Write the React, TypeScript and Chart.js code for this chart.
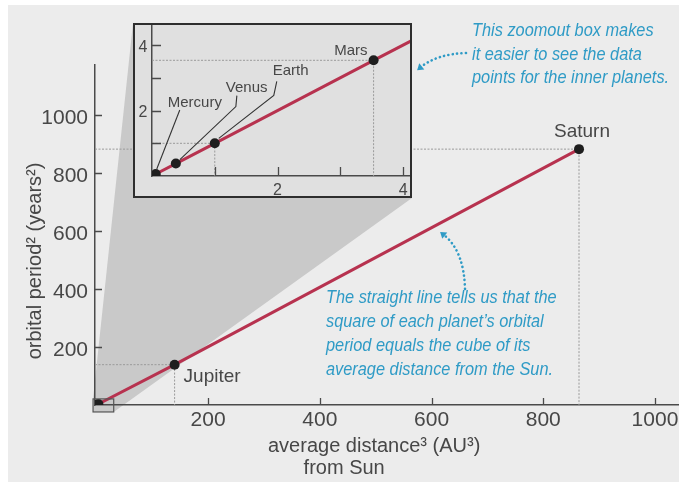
import React, { useEffect, useRef } from "react";
import { Chart, registerables } from "chart.js";

Chart.register(...registerables);

// Kepler's third law: period squared vs. distance cubed
const PLANETS = ["Mercury", "Venus", "Earth", "Mars", "Jupiter", "Saturn"];
const DIST_CUBED = [0.06, 0.38, 1, 3.53, 140, 864]; // AU^3
const PERIOD_SQUARED = [0.06, 0.38, 1, 3.54, 139, 882]; // years^2

const MAIN_X_TICKS = [200, 400, 600, 800, 1000];
const MAIN_Y_TICKS = [200, 400, 600, 800, 1000];
const INSET_TICKS = [1, 2, 3, 4];
const INSET_LABELED_TICKS = [2, 4];

const MAIN_GUIDES = ["Jupiter", "Saturn"];
const INSET_GUIDES = ["Earth", "Mars"];

const X_TITLE = "average distance\u00B3 (AU\u00B3)";
const X_TITLE_2 = "from Sun";
const Y_TITLE = "orbital period\u00B2 (years\u00B2)";

const NOTE_ZOOM = [
  "This zoomout box makes",
  "it easier to see the data",
  "points for the inner planets.",
];
const NOTE_LINE = [
  "The straight line tells us that the",
  "square of each planet\u2019s orbital",
  "period equals the cube of its",
  "average distance from the Sun.",
];

// ---- styling / layout ----
const FONT = "'Liberation Sans', Arial, Helvetica, sans-serif";
const TEXT = "#474747";
const AXIS = "#4a4a4a";
const RED = "#b7324f";
const DOT = "#1e1e1e";
const GUIDE = "#9a9a9a";
const TEAL = "#2f9bc6";
const CONE = "#c9c9c9";
const PAGE = "#ececec";
const INSET_BG = "#e0e0e0";
const NOTE_SQUEEZE = 0.86; // condensed italic look for the callouts

const W = 679;
const H = 483;
const INSET_BOX = { left: 133, top: 23, width: 279, height: 175, border: 2 };
// small magnifier box around the origin, in main-chart data units
const ZOOM_BOX = { xMin: -6, xMax: 31, yMin: -24, yMax: 21 };

const MAIN_LABELS = [
  { name: "Saturn", dx: 3, dy: -12, align: "center" as CanvasTextAlign },
  { name: "Jupiter", dx: 9, dy: 17, align: "left" as CanvasTextAlign },
];

const INSET_LABELS = [
  { name: "Mercury", dx: 12, dy: -67, align: "left" as CanvasTextAlign, leader: [[1, -5], [24, -64]] },
  { name: "Venus", dx: 50, dy: -72, align: "left" as CanvasTextAlign, leader: [[4, -4], [60, -57], [61, -68]] },
  { name: "Earth", dx: 58, dy: -68, align: "left" as CanvasTextAlign, leader: [[4, -5], [59, -48], [62, -62]] },
  { name: "Mars", dx: -6, dy: -5, align: "right" as CanvasTextAlign, leader: [] as number[][] },
];

const points = PLANETS.map((_, i) => ({ x: DIST_CUBED[i], y: PERIOD_SQUARED[i] }));

function planetPx(chart: any, name: string): [number, number] {
  const i = PLANETS.indexOf(name);
  return [
    chart.scales.x.getPixelForValue(DIST_CUBED[i]),
    chart.scales.y.getPixelForValue(PERIOD_SQUARED[i]),
  ];
}

function guidesPlugin(names: string[]) {
  return {
    id: "guides",
    beforeDatasetsDraw(chart: any) {
      const { ctx, chartArea: a } = chart;
      ctx.save();
      ctx.strokeStyle = GUIDE;
      ctx.lineWidth = 1;
      ctx.setLineDash([2, 1.5]);
      for (const n of names) {
        const [px, py] = planetPx(chart, n);
        ctx.beginPath();
        ctx.moveTo(a.left, py);
        ctx.lineTo(px, py);
        ctx.lineTo(px, a.bottom);
        ctx.stroke();
      }
      ctx.restore();
    },
  };
}

// tick marks pointing into the plot area, plus their numeric labels
function ticksPlugin(o: {
  xs: number[];
  ys: number[];
  labeled: (v: number) => boolean;
  len: number;
  size: number;
  xBase: number;
  yGap: number;
  yBase: number;
}) {
  return {
    id: "ticksInward",
    beforeDatasetsDraw(chart: any) {
      const { ctx, chartArea: a, scales } = chart;
      ctx.save();
      ctx.strokeStyle = AXIS;
      ctx.lineWidth = 1.3;
      ctx.beginPath();
      for (const v of o.xs) {
        const px = Math.round(scales.x.getPixelForValue(v)) + 0.5;
        ctx.moveTo(px, a.bottom);
        ctx.lineTo(px, a.bottom - o.len);
      }
      for (const v of o.ys) {
        const py = Math.round(scales.y.getPixelForValue(v)) + 0.5;
        ctx.moveTo(a.left, py);
        ctx.lineTo(a.left + o.len, py);
      }
      ctx.stroke();
      ctx.fillStyle = TEXT;
      ctx.font = `${o.size}px ${FONT}`;
      ctx.textBaseline = "alphabetic";
      ctx.textAlign = "center";
      for (const v of o.xs) {
        if (!o.labeled(v)) continue;
        ctx.fillText(String(v), scales.x.getPixelForValue(v), a.bottom + o.xBase);
      }
      ctx.textAlign = "right";
      for (const v of o.ys) {
        if (!o.labeled(v)) continue;
        ctx.fillText(String(v), a.left - o.yGap, scales.y.getPixelForValue(v) + o.yBase);
      }
      ctx.restore();
    },
  };
}

function dottedArrow(
  ctx: CanvasRenderingContext2D,
  s: [number, number],
  c: [number, number],
  e: [number, number]
) {
  ctx.save();
  ctx.strokeStyle = TEAL;
  ctx.fillStyle = TEAL;
  ctx.lineWidth = 2.6;
  ctx.lineCap = "round";
  ctx.setLineDash([0.1, 4.3]);
  ctx.beginPath();
  ctx.moveTo(s[0], s[1]);
  ctx.quadraticCurveTo(c[0], c[1], e[0], e[1]);
  ctx.stroke();
  ctx.setLineDash([]);
  const ang = Math.atan2(e[1] - c[1], e[0] - c[0]);
  const tipX = e[0] + Math.cos(ang) * 5;
  const tipY = e[1] + Math.sin(ang) * 5;
  const px = -Math.sin(ang);
  const py = Math.cos(ang);
  ctx.beginPath();
  ctx.moveTo(tipX, tipY);
  ctx.lineTo(e[0] - Math.cos(ang) * 1 + px * 4, e[1] - Math.sin(ang) * 1 + py * 4);
  ctx.lineTo(e[0] - Math.cos(ang) * 1 - px * 4, e[1] - Math.sin(ang) * 1 - py * 4);
  ctx.closePath();
  ctx.fill();
  ctx.restore();
}

const conePlugin = {
  id: "cone",
  beforeDraw(chart: any) {
    const { ctx, scales } = chart;
    const bl = scales.x.getPixelForValue(ZOOM_BOX.xMin);
    const br = scales.x.getPixelForValue(ZOOM_BOX.xMax);
    const bt = scales.y.getPixelForValue(ZOOM_BOX.yMax);
    const bb = scales.y.getPixelForValue(ZOOM_BOX.yMin);
    const il = INSET_BOX.left;
    const it = INSET_BOX.top;
    const ir = INSET_BOX.left + INSET_BOX.width;
    const ib = INSET_BOX.top + INSET_BOX.height;
    ctx.save();
    ctx.fillStyle = CONE;
    ctx.beginPath();
    ctx.moveTo(bl, bt);
    ctx.lineTo(il, it);
    ctx.lineTo(ir, it);
    ctx.lineTo(ir, ib);
    ctx.lineTo(br, bb);
    ctx.lineTo(bl, bb);
    ctx.closePath();
    ctx.fill();
    ctx.restore();
  },
  afterDatasetsDraw(chart: any) {
    const { ctx, scales } = chart;
    const bl = scales.x.getPixelForValue(ZOOM_BOX.xMin);
    const br = scales.x.getPixelForValue(ZOOM_BOX.xMax);
    const bt = scales.y.getPixelForValue(ZOOM_BOX.yMax);
    const bb = scales.y.getPixelForValue(ZOOM_BOX.yMin);
    ctx.save();
    ctx.strokeStyle = "#555";
    ctx.lineWidth = 1.2;
    ctx.strokeRect(bl, bt, br - bl, bb - bt);
    ctx.restore();
  },
};

function drawNote(ctx: CanvasRenderingContext2D, lines: string[], x: number, y0: number, step: number) {
  ctx.save();
  ctx.fillStyle = TEAL;
  ctx.font = `italic 19px ${FONT}`;
  ctx.textAlign = "left";
  ctx.textBaseline = "alphabetic";
  ctx.scale(NOTE_SQUEEZE, 1);
  lines.forEach((t, i) => ctx.fillText(t, x / NOTE_SQUEEZE, y0 + i * step));
  ctx.restore();
}

const mainDecor = {
  id: "mainDecor",
  afterDraw(chart: any) {
    const { ctx } = chart;
    ctx.save();
    // planet labels
    ctx.fillStyle = TEXT;
    ctx.font = `19px ${FONT}`;
    ctx.textBaseline = "alphabetic";
    for (const l of MAIN_LABELS) {
      const [px, py] = planetPx(chart, l.name);
      ctx.textAlign = l.align;
      ctx.fillText(l.name, px + l.dx, py + l.dy);
    }
    // axis titles
    ctx.font = `20px ${FONT}`;
    ctx.textAlign = "left";
    ctx.fillText(X_TITLE, 268, 452);
    const firstWords = X_TITLE.split("\u00B3")[0];
    const fw = ctx.measureText(firstWords).width;
    ctx.textAlign = "center";
    ctx.fillText(X_TITLE_2, 268 + fw / 2, 474);
    ctx.save();
    ctx.translate(35, 261);
    ctx.rotate(-Math.PI / 2);
    ctx.textAlign = "center";
    ctx.textBaseline = "middle";
    ctx.fillText(Y_TITLE, 0, 0);
    ctx.restore();
    ctx.restore();
    // callouts
    drawNote(ctx, NOTE_ZOOM, 472, 36, 23.5);
    drawNote(ctx, NOTE_LINE, 326, 303, 24);
    dottedArrow(ctx, [466, 53], [437, 54], [421, 67]);
    dottedArrow(ctx, [465, 289], [464, 251], [444, 235]);
  },
};

const insetDecor = {
  id: "insetDecor",
  afterDatasetsDraw(chart: any) {
    const { ctx } = chart;
    ctx.save();
    ctx.fillStyle = TEXT;
    ctx.strokeStyle = "#333";
    ctx.lineWidth = 1.1;
    ctx.font = `15px ${FONT}`;
    ctx.textBaseline = "alphabetic";
    for (const l of INSET_LABELS) {
      const [px, py] = planetPx(chart, l.name);
      if (l.leader.length) {
        ctx.beginPath();
        l.leader.forEach(([dx, dy], i) => {
          if (i === 0) ctx.moveTo(px + dx, py + dy);
          else ctx.lineTo(px + dx, py + dy);
        });
        ctx.stroke();
      }
      ctx.textAlign = l.align;
      ctx.fillText(l.name, px + l.dx, py + l.dy);
    }
    ctx.restore();
  },
};

function datasets() {
  return [
    {
      data: points,
      pointRadius: 5,
      pointHoverRadius: 5,
      pointBackgroundColor: DOT,
      pointBorderWidth: 0,
    },
    {
      type: "line",
      data: points,
      borderColor: RED,
      borderWidth: 3,
      pointRadius: 0,
      fill: false,
      tension: 0,
    },
  ];
}

function axis(min: number, max: number, ticks: number[], fit: (s: any) => void): any {
  return {
    type: "linear",
    min,
    max,
    grid: { display: false, drawTicks: false },
    border: { display: true, color: AXIS, width: 1.5 },
    ticks: { display: false },
    afterBuildTicks: (s: any) => {
      s.ticks = ticks.map((value) => ({ value }));
    },
    afterFit: fit,
  };
}

function mainConfig(): any {
  return {
    type: "scatter",
    data: { datasets: datasets() },
    options: {
      responsive: false,
      animation: false,
      events: [],
      layout: { autoPadding: false, padding: { top: 65, left: 0, right: 0, bottom: 0 } },
      plugins: { legend: { display: false }, tooltip: { enabled: false } },
      scales: {
        x: axis(-2.5, 1043, MAIN_X_TICKS, (s) => (s.height = 78)),
        y: axis(0, 1172, MAIN_Y_TICKS, (s) => (s.width = 95)),
      },
    },
    plugins: [
      conePlugin,
      guidesPlugin(MAIN_GUIDES),
      ticksPlugin({
        xs: MAIN_X_TICKS,
        ys: MAIN_Y_TICKS,
        labeled: () => true,
        len: 7,
        size: 21,
        xBase: 21,
        yGap: 7,
        yBase: 9,
      }),
      mainDecor,
    ],
  };
}

function insetConfig(): any {
  return {
    type: "scatter",
    data: { datasets: datasets() },
    options: {
      responsive: false,
      animation: false,
      events: [],
      layout: { autoPadding: false, padding: 0 },
      plugins: { legend: { display: false }, tooltip: { enabled: false } },
      scales: {
        x: axis(0, 4.11, INSET_TICKS, (s) => (s.height = 20)),
        y: axis(0, 4.62, INSET_TICKS, (s) => (s.width = 17)),
      },
    },
    plugins: [
      guidesPlugin(INSET_GUIDES),
      ticksPlugin({
        xs: INSET_TICKS,
        ys: INSET_TICKS,
        labeled: (v) => INSET_LABELED_TICKS.includes(v),
        len: 9,
        size: 16,
        xBase: 19,
        yGap: 4.5,
        yBase: 6.5,
      }),
      insetDecor,
    ],
  };
}

export default function App() {
  const mainRef = useRef<HTMLCanvasElement>(null);
  const insetRef = useRef<HTMLCanvasElement>(null);

  useEffect(() => {
    const main = new Chart(mainRef.current as HTMLCanvasElement, mainConfig());
    const inset = new Chart(insetRef.current as HTMLCanvasElement, insetConfig());
    return () => {
      main.destroy();
      inset.destroy();
    };
  }, []);

  const innerW = INSET_BOX.width - 2 * INSET_BOX.border;
  const innerH = INSET_BOX.height - 2 * INSET_BOX.border;

  return (
    <div
      style={{
        position: "fixed",
        left: 0,
        top: 0,
        width: W,
        height: H,
        background: "#ffffff",
        overflow: "hidden",
      }}
    >
      <div style={{ position: "absolute", left: 8, top: 5, width: W - 8, height: H - 6, background: PAGE }} />
      <canvas
        ref={mainRef}
        width={W}
        height={H}
        style={{ position: "absolute", left: 0, top: 0, width: W, height: H }}
      />
      <div
        style={{
          position: "absolute",
          left: INSET_BOX.left,
          top: INSET_BOX.top,
          width: INSET_BOX.width,
          height: INSET_BOX.height,
          boxSizing: "border-box",
          border: `${INSET_BOX.border}px solid #2e2e2e`,
          background: INSET_BG,
        }}
      >
        <canvas
          ref={insetRef}
          width={innerW}
          height={innerH}
          style={{ display: "block", width: innerW, height: innerH }}
        />
      </div>
    </div>
  );
}
